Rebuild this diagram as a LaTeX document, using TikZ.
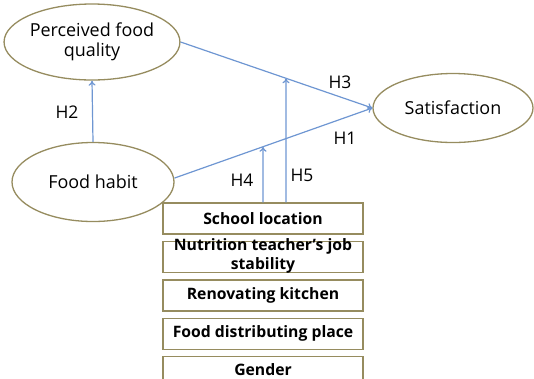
\documentclass[tikz,border=0pt]{standalone}
\usepackage{fontspec}
\setmainfont{Open Sans}
\usetikzlibrary{arrows.meta,positioning,shapes.geometric}

\definecolor{frame}{RGB}{150,140,95}
\definecolor{link}{RGB}{110,150,210}

\begin{document}
\begin{tikzpicture}[
  x=1bp,y=-1bp,
  >={To[length=5bp,width=7bp]},
  construct/.style={ellipse,draw=frame,line width=1.3bp,fill=white,align=center,
                    inner sep=0pt,font=\fontsize{18}{20}\selectfont},
  boxtext/.style={align=center,inner sep=0pt,font=\fontsize{15.8}{19}\selectfont\bfseries},
  moderator/.style={boxtext,draw=frame,line width=1.4bp,fill=white,
                    minimum width=200bp,minimum height=31bp},
  path/.style={->,link,line width=1.2bp},
  hyp/.style={font=\fontsize{17.5}{18}\selectfont},
]
\useasboundingbox (0,0) rectangle (534,378);

% ---- constructs ----------------------------------------------------------
\node[construct,minimum width=161bp,minimum height=76bp] (pfq) at (92,42)
   {Perceived food\\quality};
\node[construct,minimum width=162bp,minimum height=79bp] (fh)  at (93,182)
   {Food habit};
\node[construct,minimum width=160bp,minimum height=69bp] (sat) at (453,108)
   {Satisfaction};

% ---- moderators (stacked) ------------------------------------------------
\node[moderator] (loc) at (263,218.5) {School location};
\node[moderator,below=6bp of loc] (job) {};
\node[boxtext] (jobtxt) at ([yshift=1bp]job.center) {Nutrition teacher's job\\stability};
\node[moderator,below=6bp of job] (kit)  {Renovating kitchen};
\node[moderator,below=6bp of kit] (dist) {Food distributing place};
\node[moderator,below=6bp of dist,minimum height=25bp] (gen) {Gender};

% ---- structural paths ----------------------------------------------------
\coordinate (join) at (sat.west);
\draw[path] (fh.north) -- (pfq.south);
\draw[path] (pfq.east) -- (join);
\draw[path] ([yshift=4bp]fh.east) -- (join);

% moderating effects land on the paths
\coordinate (h4foot) at (loc.north);
\coordinate (h5foot) at ([xshift=23bp]loc.north);
\coordinate (h4tip) at (intersection of h4foot--{[yshift=-100bp]h4foot} and {[yshift=4bp]fh.east}--join);
\coordinate (h5tip) at (intersection of h5foot--{[yshift=-100bp]h5foot} and pfq.east--join);
\draw[path] (h4foot) -- (h4tip);
\draw[path] (h5foot) -- (h5tip);

% ---- hypothesis labels ---------------------------------------------------
\node[hyp] (lh2) at (67,112)  {H2};
\node[hyp] (lh3) at (340,82)  {H3};
\node[hyp] (lh1) at (345,138) {H1};
\node[hyp] (lh4) at (242,180) {H4};
\node[hyp] (lh5) at (302,175) {H5};

\end{tikzpicture}
\end{document}
